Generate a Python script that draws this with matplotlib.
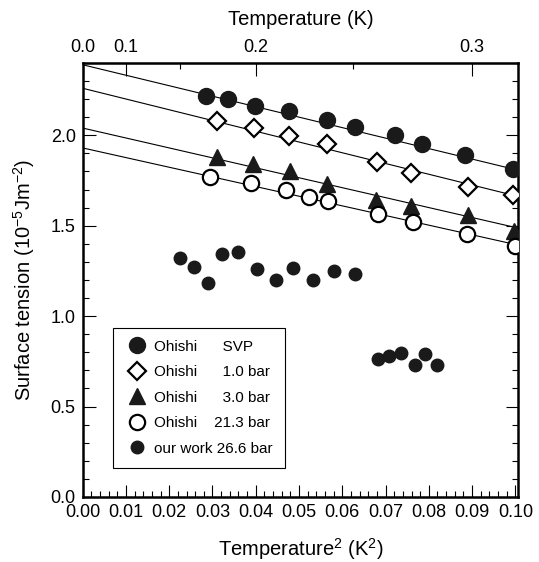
import numpy as np
import matplotlib
matplotlib.use('Agg')
import matplotlib.pyplot as plt
from matplotlib.ticker import MultipleLocator, FixedLocator

plt.rcParams['font.family'] = ['Liberation Sans', 'DejaVu Sans']
plt.rcParams['mathtext.fontset'] = 'custom'
plt.rcParams['mathtext.rm'] = 'Liberation Sans'
plt.rcParams['mathtext.it'] = 'Liberation Sans:italic'

# Data (T^2 in K^2, surface tension in 1e-5 J/m^2)
svp_x = [0.0285, 0.0336, 0.0398, 0.0476, 0.0564, 0.0630, 0.0721, 0.0784, 0.0883, 0.0994]
svp_y = [2.218, 2.200, 2.163, 2.132, 2.085, 2.048, 2.000, 1.952, 1.890, 1.813]

bar1_x = [0.0311, 0.0396, 0.0477, 0.0564, 0.0680, 0.0758, 0.0891, 0.0994]
bar1_y = [2.079, 2.043, 1.998, 1.952, 1.854, 1.794, 1.715, 1.668]

bar3_x = [0.0311, 0.0394, 0.0479, 0.0564, 0.0679, 0.0758, 0.0890, 0.0996]
bar3_y = [1.880, 1.840, 1.800, 1.730, 1.640, 1.610, 1.557, 1.470]

bar21_x = [0.0294, 0.0389, 0.0470, 0.0523, 0.0567, 0.0683, 0.0764, 0.0889, 0.0998]
bar21_y = [1.771, 1.737, 1.696, 1.659, 1.635, 1.563, 1.521, 1.456, 1.390]

ours_x = [0.0225, 0.0257, 0.0290, 0.0323, 0.0360, 0.0402, 0.0446, 0.0486, 0.0533, 0.0581, 0.0630,
          0.0683, 0.0709, 0.0735, 0.0767, 0.0792, 0.0820]
ours_y = [1.322, 1.274, 1.183, 1.344, 1.354, 1.261, 1.202, 1.265, 1.202, 1.252, 1.233,
          0.761, 0.779, 0.798, 0.728, 0.789, 0.728]

# fitted lines: values read at T^2 = 0 and at the right edge
fit_x = [0.0, 0.1006]
fit_svp = [2.39, 1.807]
fit_bar1 = [2.26, 1.662]
fit_bar3 = [2.04, 1.487]
fit_bar21 = [1.93, 1.393]

fig = plt.figure(figsize=(5.39, 5.62), dpi=100)
ax = fig.add_axes([0.1534, 0.1157, 0.8076, 0.7723])

for fy in (fit_svp, fit_bar1, fit_bar3, fit_bar21):
    ax.plot(fit_x, fy, color='black', linewidth=0.8, zorder=2)

ax.plot(svp_x, svp_y, 'o', ms=11.5, mfc='#1a1a1a', mec='#1a1a1a', label='Ohishi      SVP', zorder=3)
ax.plot(bar1_x, bar1_y, 'D', ms=9, mfc='white', mec='black', mew=1.6, label='Ohishi      1.0 bar', zorder=3)
ax.plot(bar3_x, bar3_y, '^', ms=12, mfc='#1a1a1a', mec='#1a1a1a', label='Ohishi      3.0 bar', zorder=3)
ax.plot(bar21_x, bar21_y, 'o', ms=11, mfc='white', mec='black', mew=1.6, label='Ohishi    21.3 bar', zorder=3)
ax.plot(ours_x, ours_y, 'o', ms=9, mfc='#1a1a1a', mec='#1a1a1a', label='our work 26.6 bar', zorder=3)

ax.set_xlim(0, 0.1006)
ax.set_ylim(0, 2.4)

ax.xaxis.set_major_locator(MultipleLocator(0.01))
ax.xaxis.set_minor_locator(MultipleLocator(0.002))
ax.yaxis.set_major_locator(MultipleLocator(0.5))
ax.yaxis.set_minor_locator(MultipleLocator(0.1))
ax.xaxis.set_major_formatter(plt.FormatStrFormatter('%.2f'))
ax.yaxis.set_major_formatter(plt.FormatStrFormatter('%.1f'))

ax.tick_params(which='both', direction='in', right=True, labelsize=13, width=0.8)
ax.tick_params(which='major', length=9, pad=5)
ax.tick_params(which='minor', length=4)
for s in ax.spines.values():
    s.set_linewidth(1.8)

# top axis in temperature
top = ax.secondary_xaxis('top', functions=(lambda x: np.sqrt(np.clip(x, 0, None)), np.square))
top.xaxis.set_major_locator(FixedLocator([0.0, 0.1, 0.2, 0.3]))
top.xaxis.set_minor_locator(FixedLocator([0.15, 0.25]))
top.xaxis.set_major_formatter(plt.FormatStrFormatter('%.1f'))
top.tick_params(which='both', direction='in', labelsize=13, width=0.8)
top.tick_params(which='major', length=9, pad=5)
top.tick_params(which='minor', length=4)
top.set_xlabel('Temperature (K)', fontsize=14.5, labelpad=10)

ax.set_xlabel('Temperature$^2$ (K$^2$)', fontsize=14.5, labelpad=11)
ax.set_ylabel('Surface tension (10$^{-5}$Jm$^{-2}$)', fontsize=14.5, labelpad=10)

leg = ax.legend(loc='lower left', bbox_to_anchor=(0.07, 0.067), fontsize=11,
                frameon=True, fancybox=False, edgecolor='black', framealpha=1,
                borderpad=0.8, labelspacing=0.75, handletextpad=0.4, handlelength=1.5,
                borderaxespad=0)
leg.get_frame().set_linewidth(0.8)

fig.savefig('out.png', dpi=100)
